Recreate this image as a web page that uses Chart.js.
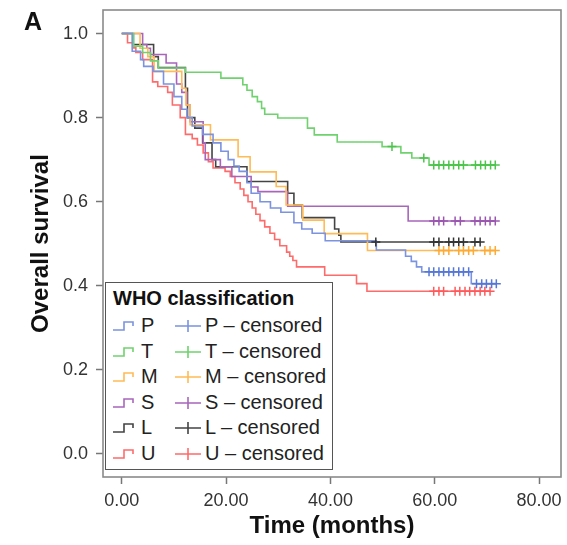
<!DOCTYPE html>
<html>
<head>
<meta charset="utf-8">
<script src="https://cdn.jsdelivr.net/npm/chart.js@4.4.1/dist/chart.umd.min.js"></script>
<style>
  body { margin: 0; background: #fff; font-family: "Liberation Sans", Arial, sans-serif; }
  #wrap { position: relative; width: 567px; height: 545px; }
  #panel { position: absolute; left: 24px; top: 7px; font-weight: bold; font-size: 25px; color: #111; }
  #legend { position: absolute; left: 105px; top: 282px; width: 228px; height: 188px;
            border: 1.5px solid #555; background: #fff; box-sizing: border-box; }
  #legend .title { position: absolute; left: 7px; top: 4px; font-weight: bold; font-size: 20px; color: #111; }
  #legend .row { position: absolute; left: 0; height: 24px; font-size: 20px; color: #222; }
  #legend svg { position: absolute; top: 5px; }
  #legend span { position: absolute; top: 0px; white-space: nowrap; }
</style>
</head>
<body>
<div id="wrap">
  <canvas id="km-chart" width="567" height="545"></canvas>
  <div id="panel">A</div>
  <div id="legend"><div class="title">WHO classification</div></div>
</div>
<script>
// Kaplan-Meier steps: month of each drop and survival after it
const pTimes = [0, 2.0, 3.6, 4.2, 6.0, 8.0, 10.0, 11.5, 12.5, 13.5, 15.5, 17.5, 19.0, 20.4, 21.5, 22.5, 24.0, 24.8, 26.5, 28.5, 30.5, 33.0, 34.5, 36.5, 39.0, 48.8, 54.4, 55.5, 56.5, 57.5, 67.0, 71.8];
const pSurv  = [1.0, 0.958, 0.938, 0.922, 0.91, 0.88, 0.85, 0.82, 0.80, 0.78, 0.76, 0.74, 0.72, 0.70, 0.685, 0.672, 0.645, 0.62, 0.60, 0.585, 0.575, 0.55, 0.535, 0.525, 0.507, 0.485, 0.47, 0.458, 0.445, 0.433, 0.405, 0.405];
const pCensored = [58.9, 59.8, 60.8, 61.7, 62.7, 63.6, 64.6, 65.5, 66.5, 68.0, 69.0, 69.9, 70.9, 71.8];

const tTimes = [0, 2.3, 4.0, 5.5, 7.0, 12.2, 19.0, 23.2, 24.0, 25.0, 26.0, 26.8, 27.4, 29.9, 35.6, 36.9, 41.3, 49.9, 53.5, 55.6, 58.9, 71.6];
const tSurv  = [1.0, 0.97, 0.955, 0.935, 0.918, 0.908, 0.894, 0.878, 0.865, 0.85, 0.838, 0.822, 0.808, 0.799, 0.775, 0.759, 0.742, 0.731, 0.716, 0.704, 0.687, 0.687];
const tCensored = [51.8, 57.9, 59.8, 60.8, 61.7, 62.7, 63.6, 64.6, 65.5, 67.8, 68.8, 69.7, 70.7, 71.6];

const mTimes = [0, 3.5, 5.0, 6.2, 11.5, 12.3, 13.1, 17.0, 22.3, 24.6, 29.6, 31.5, 34.7, 38.8, 47.1, 71.6];
const mSurv  = [1.0, 0.965, 0.945, 0.91, 0.87, 0.83, 0.783, 0.747, 0.707, 0.671, 0.636, 0.592, 0.556, 0.524, 0.484, 0.484];
const mCensored = [60.8, 61.7, 62.7, 64.6, 65.5, 66.5, 67.4, 69.6, 70.6, 71.6];

const sTimes = [0, 4.0, 4.8, 5.5, 8.5, 10.5, 11.5, 12.5, 13.1, 15.6, 16.0, 18.9, 21.1, 24.8, 26.1, 31.8, 54.9, 71.6];
const sSurv  = [1.0, 0.974, 0.965, 0.95, 0.93, 0.88, 0.86, 0.83, 0.79, 0.74, 0.70, 0.683, 0.66, 0.635, 0.624, 0.589, 0.554, 0.554];
const sCensored = [59.8, 60.8, 61.7, 63.9, 64.9, 67.7, 68.7, 69.7, 70.6, 71.6];

const lTimes = [0, 2.1, 6.1, 7.0, 12.2, 12.6, 14.0, 15.5, 17.3, 18.0, 24.0, 31.8, 33.0, 34.6, 40.8, 41.6, 42.0, 68.7];
const lSurv  = [1.0, 0.974, 0.945, 0.919, 0.87, 0.80, 0.775, 0.74, 0.70, 0.683, 0.648, 0.62, 0.592, 0.562, 0.535, 0.52, 0.504, 0.504];
const lCensored = [48.7, 59.8, 60.8, 62.7, 63.6, 64.6, 65.5, 67.7, 68.7];

const uTimes = [0, 1.1, 2.1, 2.7, 4.0, 5.9, 6.9, 8.8, 9.7, 11.2, 12.2, 13.5, 14.5, 15.6, 16.6, 17.5, 19.8, 20.8, 21.7, 22.7, 23.4, 24.2, 25.0, 25.7, 26.5, 27.4, 28.4, 29.3, 30.3, 31.6, 32.2, 32.8, 33.5, 38.9, 45.0, 47.0, 70.6];
const uSurv  = [1.0, 0.978, 0.966, 0.955, 0.938, 0.885, 0.874, 0.86, 0.83, 0.80, 0.76, 0.75, 0.735, 0.716, 0.695, 0.68, 0.672, 0.66, 0.645, 0.63, 0.615, 0.60, 0.585, 0.57, 0.555, 0.54, 0.525, 0.51, 0.495, 0.48, 0.47, 0.46, 0.445, 0.425, 0.405, 0.387, 0.387];
const uCensored = [59.8, 60.8, 61.7, 63.9, 64.8, 65.8, 66.7, 67.7, 68.7, 69.6, 70.6];

const seriesNames = ['P', 'T', 'M', 'S', 'L', 'U'];
const xTicks = [0, 20, 40, 60, 80];
const yTicks = [0, 0.2, 0.4, 0.6, 0.8, 1.0];

const lineColors   = ['#7b93e0', '#6fd26f', '#ffbb55', '#a866bb', '#444444', '#ff6b6b'];
const censorColors = ['#5577d6', '#4cc44c', '#ffaa33', '#9a55b0', '#333333', '#ff5a5a'];

const allTimes = [pTimes, tTimes, mTimes, sTimes, lTimes, uTimes];
const allSurv = [pSurv, tSurv, mSurv, sSurv, lSurv, uSurv];
const allCensored = [pCensored, tCensored, mCensored, sCensored, lCensored, uCensored];

// survival value of a step curve at time t
function survAt(times, surv, t) {
  let v = surv[0];
  for (let i = 0; i < times.length; i++) {
    if (times[i] <= t) v = surv[i];
  }
  return v;
}

const datasets = [];
seriesNames.forEach((name, i) => {
  datasets.push({
    label: name,
    data: allTimes[i].map((t, j) => ({ x: t, y: allSurv[i][j] })),
    borderColor: lineColors[i],
    borderWidth: 1.6,
    stepped: 'before',
    pointRadius: 0,
    fill: false,
    order: 10 + i
  });
  datasets.push({
    label: name + ' – censored',
    type: 'scatter',
    data: allCensored[i].map(t => ({ x: t, y: survAt(allTimes[i], allSurv[i], t) })),
    borderColor: censorColors[i],
    backgroundColor: censorColors[i],
    pointStyle: 'cross',
    pointRadius: 4.5,
    borderWidth: 1.5,
    order: i
  });
});

// grey frame around the plotting area
const frame = {
  id: 'frame',
  afterDraw(chart) {
    const { ctx, chartArea: a } = chart;
    ctx.save();
    ctx.strokeStyle = '#8a8a8a';
    ctx.lineWidth = 1.6;
    ctx.strokeRect(a.left, a.top, a.right - a.left, a.bottom - a.top);
    ctx.restore();
  }
};

const tickFont = { family: '"Liberation Sans", Arial, sans-serif', size: 18 };
const titleFont = { family: '"Liberation Sans", Arial, sans-serif', size: 24, weight: 'bold' };

new Chart(document.getElementById('km-chart'), {
  type: 'line',
  data: { datasets },
  options: {
    responsive: false,
    animation: false,
    layout: { padding: { top: 10, right: 6, left: 0, bottom: 0 } },
    plugins: { legend: { display: false }, tooltip: { enabled: false } },
    scales: {
      x: {
        type: 'linear',
        min: -3.6,
        max: 84.2,
        afterBuildTicks: (s) => { s.ticks = xTicks.map(v => ({ value: v })); },
        afterFit: (s) => { s.height = 68; s.paddingLeft = 0; s.paddingRight = 0; },
        border: { display: false },
        grid: { drawOnChartArea: false, drawTicks: true, tickLength: 7, tickColor: '#777', tickWidth: 1.5 },
        ticks: { font: tickFont, color: '#333', padding: 6, maxRotation: 0, callback: v => v.toFixed(2) },
        title: { display: true, text: 'Time (months)', font: titleFont, color: '#111', padding: { top: 0, bottom: 4 } }
      },
      y: {
        min: -0.055,
        max: 1.056,
        afterBuildTicks: (s) => { s.ticks = yTicks.map(v => ({ value: v })); },
        afterFit: (s) => { s.width = 103; s.paddingTop = 0; s.paddingBottom = 0; },
        border: { display: false },
        grid: { drawOnChartArea: false, drawTicks: true, tickLength: 7, tickColor: '#777', tickWidth: 1.5 },
        ticks: { font: tickFont, color: '#333', padding: 8, callback: v => v.toFixed(1) },
        title: { display: true, text: 'Overall survival', font: titleFont, color: '#111', padding: { top: 27, bottom: 0 } }
      }
    }
  },
  plugins: [frame]
});

// legend: step line + name, censor cross + name
const legend = document.getElementById('legend');
seriesNames.forEach((name, i) => {
  const row = document.createElement('div');
  row.className = 'row';
  row.style.top = (31 + i * 25.6) + 'px';
  row.style.width = '225px';
  const c = lineColors[i];
  row.innerHTML =
    `<svg width="24" height="14" style="left:7px"><path d="M0,11 H11 V3 H20 V7" fill="none" stroke="${c}" stroke-width="1.6"/></svg>` +
    `<span style="left:35px">${name}</span>` +
    `<svg width="26" height="14" style="left:69px"><path d="M0,7 H26 M13,1 V13" fill="none" stroke="${c}" stroke-width="1.6"/></svg>` +
    `<span style="left:99px">${name} – censored</span>`;
  legend.appendChild(row);
});
</script>
</body>
</html>
